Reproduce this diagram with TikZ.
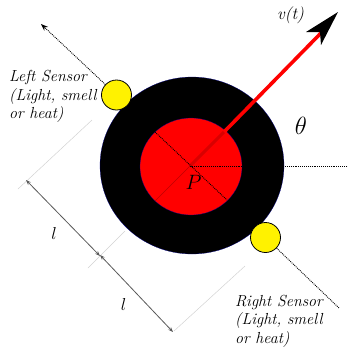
\documentclass[tikz,border=0pt]{standalone}
\usepackage{amsmath,amssymb}
\usetikzlibrary{arrows.meta,calc,positioning,shapes.geometric}
\tikzset{
  body/.style   = {ellipse, draw=blue!60!black, very thin, inner sep=0pt},
  sensor/.style = {circle, draw=black, fill=yellow, thick, minimum size=30pt, inner sep=0pt},
  ray/.style    = {densely dotted, line width=0.9pt},
  guide/.style  = {gray!35, line width=0.5pt},
  dim/.style    = {{Stealth[length=1.8mm]}-{Stealth[length=1.8mm]}, black!65, line width=0.8pt},
  caption/.style = {font=\fontsize{16}{18.5}\selectfont\itshape, align=left, inner sep=0pt},
}
\begin{document}
\begin{tikzpicture}[x=1pt,y=-1pt]
  \useasboundingbox (0,0) rectangle (348,349);
  \node[body, fill=black, minimum width=184, minimum height=177] (outer) at (192,165.5) {};
  \node[body, fill=red, minimum width=102, minimum height=97] (inner) at (191,166.5) {};
  \coordinate (P) at (190,166);
  %
  \coordinate (tip) at (338,12);
  \coordinate (neck) at (321,33);
  \coordinate (rim) at (224,132);
  \draw[red, line width=3.6pt] (rim) -- (neck);
  \draw[red!85!black, line width=3pt] (P) -- (rim);
  \fill[black] (tip) -- (306,32) -- (320,32) -- (321,45) -- cycle;
  %
  \node[sensor] (ls) at (116.5,95) {};
  \node[sensor] (rs) at (265.5,237.5) {};
  \coordinate (lend) at (41,24);
  \coordinate (rend) at (339,308);
  \coordinate (a) at (155,132);
  \coordinate (b) at (227,200);
  \coordinate (hend) at (348,166);
  \draw[ray, -{Stealth[length=2.5mm]}] (ls) -- (lend);
  \draw[ray] (rs) -- (rend);
  \draw[ray] (a) -- (b);
  \draw[ray] (P) -- (hend);
  %
  \coordinate (g0) at (155,201);
  \draw[red!75!black, line width=0.4pt] (P) -- (g0);
  \coordinate (g1a) at (92,120); \coordinate (g1b) at (18,189);
  \coordinate (g2a) at (125,231); \coordinate (g2b) at (88,268);
  \coordinate (g3a) at (245,266); \coordinate (g3b) at (174,331);
  \draw[guide] (g1a) -- (g1b);
  \draw[guide] (g2a) -- (g2b);
  \draw[guide] (g3a) -- (g3b);
  \coordinate (d1) at (26,180); \coordinate (d2) at (100,256);
  \coordinate (d3) at (100,255); \coordinate (d4) at (173,332);
  \draw[dim] (d1) -- (d2);
  \draw[dim] (d3) -- (d4);
  %
  \node[caption, anchor=west] (ltxt) at (9,96.5) {Left Sensor\\(Light, smell\\or heat)};
  \node[caption, anchor=west] (rtxt) at (235,321) {Right Sensor\\(Light, smell\\or heat)};
  \node[font=\fontsize{17}{20}\selectfont\itshape] (vt) at (290.5,15) {v(t)};
  \node[font=\fontsize{26}{30}\selectfont] (th) at (301,126) {$\theta$};
  \node[font=\fontsize{22}{26}\selectfont] (pp) at (193.5,182) {$P$};
  \node[font=\fontsize{19}{22}\selectfont] (l1) at (54,233.5) {$l$};
  \node[font=\fontsize{19}{22}\selectfont] (l2) at (123.5,304) {$l$};
\end{tikzpicture}
\end{document}
